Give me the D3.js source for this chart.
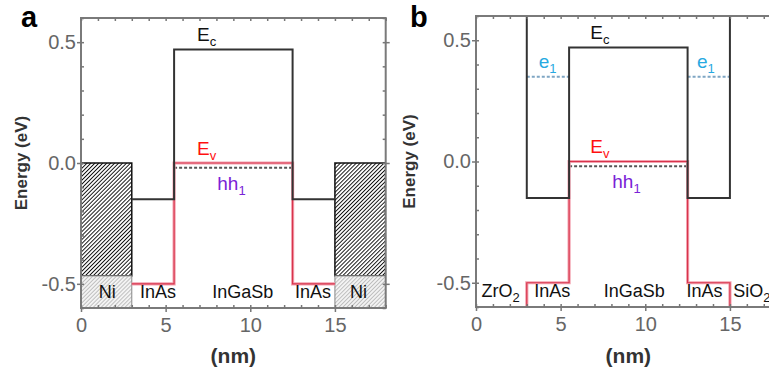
<!DOCTYPE html>
<html>
<head>
<meta charset="utf-8">
<script src="https://cdn.jsdelivr.net/npm/d3@7"></script>
<style>
  body { margin: 0; background: #fff; }
  svg { display: block; font-family: "Liberation Sans", Arial, sans-serif; }
  .tick text { fill: #666; font-size: 20px; }
  .tick line { stroke: #777; stroke-width: 1.5; }
  .domain { display: none; }
</style>
</head>
<body>
<svg id="chart" width="769" height="367"></svg>
<script>
// axis values
const xTicks = [0, 5, 10, 15];
const xMinor = d3.range(0, 19, 1);
const yTicks = [-0.5, 0.0, 0.5];
const yMinor = [-0.6, -0.5, -0.4, -0.3, -0.2, -0.1, 0, 0.1, 0.2, 0.3, 0.4, 0.5, 0.6];

// quantum well layers (nm) and band edges (eV)
const wellStart = [3, 5.5, 12.5];
const wellEnd = [5.5, 12.5, 15];
const ecBand = [-0.15, 0.47, -0.15];
const evBand = [-0.5, 0.0, -0.5];
const hh1Level = -0.02;
const e1Level = 0.35;
const oxideEc = 1.0; // off the top of the plot
const oxideEv = -1.0; // off the bottom

// metal contacts in panel a
const niStart = [0, 15];
const niEnd = [3, 18];
const niTop = 0.0;

// layer labels along the bottom
const labelsA = ["Ni", "InAs", "InGaSb", "InAs", "Ni"];
const labelPosA = [1.55, 4.55, 9.55, 13.7, 16.4];
const labelsB = ["ZrO", "InAs", "InGaSb", "InAs", "SiO"];
const labelPosB = [1.45, 4.5, 9.35, 13.5, 15.2];

const svg = d3.select("#chart");
const defs = svg.append("defs");

function hatch(id, color, bg, w) {
  const p = defs.append("pattern")
    .attr("id", id)
    .attr("patternUnits", "userSpaceOnUse")
    .attr("width", 2.8).attr("height", 2.8)
    .attr("patternTransform", "rotate(45)");
  p.append("rect").attr("width", 2.8).attr("height", 2.8).attr("fill", bg);
  p.append("line")
    .attr("x1", 0).attr("y1", 0).attr("x2", 0).attr("y2", 2.8)
    .attr("stroke", color).attr("stroke-width", w);
}
hatch("hatchDark", "#111", "#fff", 1.9);
hatch("hatchLight", "#b0b0b0", "#f3f3f3", 1.5);

function steps(start, end, vals) {
  const pts = [];
  vals.forEach((v, i) => {
    pts.push([start[i], v]);
    pts.push([end[i], v]);
  });
  return pts;
}

const fmtY = (d) => d3.format(".1f")(d).replace("\u2212", "-");

function drawPanel(opt) {
  const x = d3.scaleLinear().domain([0, 18]).range([opt.left, opt.left + 304.7]);
  const y = d3.scaleLinear().domain([-0.6, 0.6]).range([opt.bottom, opt.top]);
  const g = svg.append("g");

  defs.append("clipPath").attr("id", "clip" + opt.name)
    .append("rect")
    .attr("x", x(0)).attr("y", y(0.6))
    .attr("width", x(18) - x(0)).attr("height", y(-0.6) - y(0.6));

  const plot = g.append("g").attr("clip-path", `url(#clip${opt.name})`);

  if (opt.metal) {
    niStart.forEach((s, i) => {
      plot.append("rect")
        .attr("x", x(s)).attr("y", y(niTop))
        .attr("width", x(niEnd[i]) - x(s)).attr("height", y(-0.467) - y(niTop))
        .attr("fill", "url(#hatchDark)")
        .attr("stroke", "#111").attr("stroke-width", 1.5);
      plot.append("rect")
        .attr("x", x(s)).attr("y", y(-0.467))
        .attr("width", x(niEnd[i]) - x(s)).attr("height", y(-0.6) - y(-0.467))
        .attr("fill", "url(#hatchLight)")
        .attr("stroke", "#888").attr("stroke-width", 1);
    });
  }

  const line = d3.line().x((d) => x(d[0])).y((d) => y(d[1]));

  let ec = steps(wellStart, wellEnd, ecBand);
  let ev = steps(wellStart, wellEnd, evBand);
  if (!opt.metal) {
    ec = [[wellStart[0], oxideEc]].concat(ec, [[wellEnd[2], oxideEc]]);
    ev = [[wellStart[0], oxideEv]].concat(ev, [[wellEnd[2], oxideEv]]);
  }

  // confined levels
  if (!opt.metal) {
    [0, 2].forEach((i) => {
      plot.append("line")
        .attr("x1", x(wellStart[i])).attr("x2", x(wellEnd[i]))
        .attr("y1", y(e1Level)).attr("y2", y(e1Level))
        .attr("stroke", "#7fa6c4").attr("stroke-width", 2)
        .attr("stroke-dasharray", "3,2");
    });
  }
  plot.append("line")
    .attr("x1", x(wellStart[1])).attr("x2", x(wellEnd[1]))
    .attr("y1", y(hh1Level)).attr("y2", y(hh1Level))
    .attr("stroke", "#555").attr("stroke-width", 2)
    .attr("stroke-dasharray", "3,2");

  plot.append("path").attr("d", line(ev))
    .attr("fill", "none").attr("stroke", "#f3a3b0").attr("stroke-width", 3.2);
  plot.append("path").attr("d", line(ev))
    .attr("fill", "none").attr("stroke", "#d8344c").attr("stroke-width", 1.2);
  plot.append("path").attr("d", line(ec))
    .attr("fill", "none").attr("stroke", "#333").attr("stroke-width", 2);

  // band labels
  const bandText = (tx, ty, main, sub, color) => {
    const t = g.append("text")
      .attr("x", x(tx)).attr("y", y(ty))
      .attr("fill", color).attr("font-size", 19);
    t.append("tspan").text(main);
    t.append("tspan").attr("font-size", 13).attr("dy", 5).text(sub);
  };
  bandText(opt.ecX, 0.505, "E", "c", "#111");
  bandText(opt.ecX, 0.035, "E", "v", "#ff1010");
  bandText(8.05, -0.11, "hh", "1", "#7a22d6");
  if (!opt.metal) {
    bandText(3.7, 0.386, "e", "1", "#27a9e1");
    bandText(13.05, 0.386, "e", "1", "#27a9e1");
  }

  // layer names
  opt.labels.forEach((name, i) => {
    const t = g.append("text")
      .attr("x", x(opt.labelPos[i])).attr("y", y(-0.558))
      .attr("text-anchor", name === "SiO" ? "start" : "middle")
      .attr("font-size", 18).attr("fill", "#111");
    t.append("tspan").text(name);
    if (name.endsWith("O")) {
      t.append("tspan").attr("font-size", 13).attr("dy", 5).text("2");
    }
  });

  // frame
  g.append("rect")
    .attr("x", x(0)).attr("y", y(0.6))
    .attr("width", x(18) - x(0)).attr("height", y(-0.6) - y(0.6))
    .attr("fill", "none").attr("stroke", "#7a7a7a").attr("stroke-width", 2);

  // axes: labelled majors, inward minors
  g.append("g").attr("transform", `translate(0,${y(-0.6)})`)
    .call(d3.axisBottom(x).tickValues(xTicks).tickSize(4).tickPadding(6).tickFormat(d3.format("d")));
  g.append("g").attr("transform", `translate(0,${y(-0.6)})`)
    .call(d3.axisBottom(x).tickValues(xMinor).tickSize(-3).tickFormat(""));
  g.append("g").attr("transform", `translate(0,${y(0.6)})`)
    .call(d3.axisTop(x).tickValues(xMinor).tickSize(-3).tickFormat(""));
  g.append("g").attr("transform", `translate(${x(0)},0)`)
    .call(d3.axisLeft(y).tickValues(yTicks).tickSize(4).tickPadding(1).tickFormat(fmtY));
  g.append("g").attr("transform", `translate(${x(0)},0)`)
    .call(d3.axisLeft(y).tickValues(yMinor).tickSize(-3).tickFormat(""));
  g.append("g").attr("transform", `translate(${x(18)},0)`)
    .call(d3.axisRight(y).tickValues(yTicks).tickSize(4).tickFormat(""));
  g.append("g").attr("transform", `translate(${x(18)},0)`)
    .call(d3.axisRight(y).tickValues(yMinor).tickSize(-3).tickFormat(""));

  g.selectAll(".tick text").attr("font-size", 20).attr("fill", "#666");

  // axis titles
  g.append("text")
    .attr("transform", `translate(${opt.yTitleX},${(y(0.6) + y(-0.6)) / 2}) rotate(-90)`)
    .attr("text-anchor", "middle").attr("dominant-baseline", "central")
    .attr("font-size", 17).attr("font-weight", "bold").attr("fill", "#333")
    .text("Energy (eV)");
  g.append("text")
    .attr("x", x(9)).attr("y", 363)
    .attr("text-anchor", "middle")
    .attr("font-size", 21).attr("font-weight", "bold").attr("fill", "#333")
    .text("(nm)");

  g.append("text")
    .attr("x", opt.letterX).attr("y", 27)
    .attr("font-size", 29).attr("font-weight", "bold").attr("fill", "#000")
    .text(opt.name);
}

drawPanel({
  name: "a", left: 81, top: 18, bottom: 308, metal: true,
  labels: labelsA, labelPos: labelPosA, ecX: 6.85, yTitleX: 21, letterX: 21
});
drawPanel({
  name: "b", left: 476, top: 16, bottom: 307, metal: false,
  labels: labelsB, labelPos: labelPosB, ecX: 6.75, yTitleX: 409, letterX: 410
});
</script>
</body>
</html>
